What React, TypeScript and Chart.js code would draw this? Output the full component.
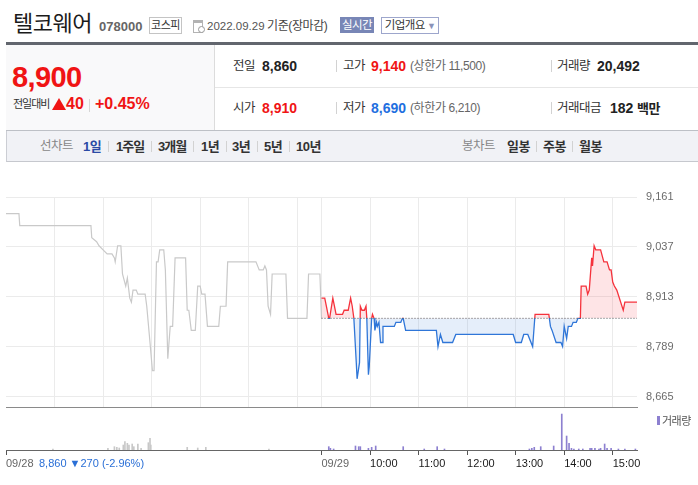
import React, { useEffect, useRef } from "react";
import { Chart, registerables } from "chart.js";
Chart.register(...registerables);

const FONT = "'Liberation Sans', 'Noto Sans CJK KR', sans-serif";

// ---- data ----
const prevClose = 8860;
const yTickValues = [8665, 8789, 8913, 9037, 9161];
const yMin = 8640;
const yMax = 9161;

const prevTimes = ["09:00","09:16","09:17","10:45","10:46","10:52","10:55","11:00","11:05","11:11","11:14","11:15","11:18","11:22","11:24","11:28","11:30","11:33","11:35","11:37","11:41","11:43","11:52","11:54","11:58","12:01","12:03","12:06","12:08","12:10","12:15","12:17","12:20","12:23","12:26","12:29","12:42","12:44","12:46","12:49","12:54","12:57","13:00","13:02","13:06","13:09","13:11","13:23","13:25","13:32","13:34","14:09","14:13","14:18","14:20","14:22","14:24","14:27","14:29","14:46","14:48","15:12","15:14","15:28","15:30"];
const prevPrices = [9120,9120,9090,9090,9060,9050,9040,9030,9020,9020,9010,9000,9040,9040,8970,8940,8960,8910,8900,8930,8930,8920,8920,8890,8800,8730,8730,9000,9000,9030,9030,8980,8760,8840,8840,9010,9010,8880,8880,8830,8830,8940,8940,8920,8920,8840,8840,8840,8890,8890,9000,9000,8980,8980,8990,8980,8890,8870,8970,8970,8860,8860,8970,8970,8860];

const todayTimes = ["09:00","09:04","09:06","09:09","09:10","09:14","09:16","09:18","09:26","09:28","09:33","09:36","09:38","09:40","09:43","09:44","09:47","09:48","09:50","09:53","09:55","09:56","09:58","09:59","10:02","10:03","10:05","10:06","10:08","10:09","10:11","10:13","10:15","10:16","10:30","10:32","10:38","10:40","10:41","10:44","11:22","11:24","11:27","11:30","11:42","11:46","12:57","13:00","13:07","13:10","13:15","13:21","13:24","13:41","13:43","13:45","13:50","13:56","13:58","14:00","14:03","14:05","14:09","14:11","14:15","14:17","14:20","14:21","14:27","14:29","14:31","14:34","14:35","14:37","14:39","14:45","14:49","14:53","14:56","14:58","15:00","15:02","15:05","15:13","15:15","15:30"];
const todayPrices = [8910,8910,8890,8860,8860,8910,8890,8870,8870,8880,8880,8910,8890,8860,8750,8710,8750,8890,8880,8880,8890,8860,8720,8740,8860,8870,8860,8830,8850,8840,8850,8800,8800,8840,8840,8850,8850,8860,8860,8830,8830,8790,8820,8800,8800,8820,8820,8800,8800,8820,8820,8790,8870,8870,8840,8830,8800,8800,8790,8840,8810,8840,8840,8850,8850,8860,8860,8940,8940,8920,8930,9010,8990,9040,9030,9030,9000,9000,8980,8980,8950,8940,8930,8880,8900,8900];

const prevVolTimes = ["09:58","11:06","11:14","11:17","11:20","11:25","11:27","11:30","11:32","11:36","11:38","11:43","11:47","11:56","11:58","11:59","12:44","12:57","13:07","14:25"];
const prevVolumes = [75,125,250,200,150,375,625,500,375,450,250,450,125,550,875,375,200,150,200,75];

const todayVolTimes = ["09:09","09:11","09:15","09:42","09:46","09:48","09:58","10:02","10:07","10:41","11:07","11:23","11:32","13:17","13:20","13:23","13:31","13:47","13:57","14:03","14:06","14:09","14:12","14:18","14:23","14:32","14:34","14:38","14:43","14:45","14:50","14:53","14:58","15:07","15:15","15:28"];
const todayVolumes = [250,125,75,300,250,250,125,200,300,250,75,250,75,75,125,200,250,300,2700,1050,500,125,75,75,75,125,125,125,75,125,450,125,125,75,75,75];
const volMax = 3230;

const prevGridTimes = ["10:00","11:00","12:00","13:00","14:00","15:00"];
const todayHourLabels = ["10:00","11:00","12:00","13:00","14:00","15:00"];
const prevDateLabel = "09/28";
const todayDateLabel = "09/29";
const prevDayNote = "8,860 ▼270 (-2.96%)";

const DAY = 390;
const toMin = (t: string) => {
  const [h, m] = t.split(":").map(Number);
  return (h - 9) * 60 + m;
};

const RED = "#f5323c";
const BLUE = "#2f76d8";

type TP = { x: number; y: number; size: number; color?: string; bold?: boolean; ls?: number; children: any };
const T = ({ x, y, size, color = "#333", bold = false, ls = 0, children }: TP) => {
  const lh = Math.round(size + 6);
  return (
    <div style={{ position: "absolute", left: x, top: y - lh / 2, lineHeight: lh + "px", fontSize: size, color, fontWeight: bold ? 700 : 400, letterSpacing: ls, whiteSpace: "nowrap", fontFamily: FONT }}>
      {children}
    </div>
  );
};
const VSep = ({ x, y, h = 12, color = "#d2d2d2" }: { x: number; y: number; h?: number; color?: string }) => (
  <div style={{ position: "absolute", left: x, top: y - h / 2, width: 1, height: h, background: color }} />
);

export default function App() {
  const priceRef = useRef<HTMLCanvasElement>(null);
  const volRef = useRef<HTMLCanvasElement>(null);

  useEffect(() => {
    const prevLine = prevTimes.map((t, i) => ({ x: toMin(t), y: prevPrices[i] }));
    const todayLine = todayTimes.map((t, i) => ({ x: DAY + toMin(t), y: todayPrices[i] }));
    const base = [{ x: DAY, y: prevClose }, { x: 2 * DAY, y: prevClose }];
    const gridMins = [...prevGridTimes.map(toMin), DAY, ...todayHourLabels.map((t) => DAY + toMin(t))];
    const axisTicks = [0, DAY, ...todayHourLabels.map((t) => DAY + toMin(t))];
    const axisLabel = (v: number) => {
      if (v === 0) return prevDateLabel;
      if (v === DAY) return todayDateLabel;
      const i = todayHourLabels.findIndex((t) => DAY + toMin(t) === v);
      return i >= 0 ? todayHourLabels[i] : "";
    };

    const priceChart = new Chart(priceRef.current!, {
      type: "line",
      data: {
        datasets: [
          { data: base, borderColor: "#555", borderWidth: 1, borderDash: [1, 2], pointRadius: 0, fill: false },
          {
            data: todayLine,
            borderWidth: 1.3,
            pointRadius: 0,
            tension: 0,
            borderColor: (ctx: any) => {
              const chart = ctx.chart;
              const ca = chart.chartArea;
              if (!ca) return RED;
              const yb = chart.scales.y.getPixelForValue(prevClose);
              const g = chart.ctx.createLinearGradient(0, ca.top, 0, ca.bottom);
              const f = Math.min(1, Math.max(0, (yb - ca.top) / (ca.bottom - ca.top)));
              g.addColorStop(0, RED);
              g.addColorStop(f, RED);
              g.addColorStop(f, BLUE);
              g.addColorStop(1, BLUE);
              return g;
            },
            fill: { target: { value: prevClose }, above: "rgba(250,90,100,0.16)", below: "rgba(80,140,220,0.15)" },
          } as any,
          { data: prevLine, borderColor: "#c9c9c9", borderWidth: 1.2, pointRadius: 0, tension: 0, fill: false },
        ],
      },
      options: {
        responsive: false,
        animation: false,
        events: [],
        layout: { padding: { left: 6, top: 10, right: 0, bottom: 2 } },
        plugins: { legend: { display: false }, tooltip: { enabled: false } },
        scales: {
          x: {
            type: "linear",
            min: 0,
            max: 2 * DAY,
            afterBuildTicks: (s: any) => { s.ticks = gridMins.map((v) => ({ value: v })); },
            afterFit: (s: any) => { s.height = 0; s.paddingLeft = 0; s.paddingRight = 0; s.paddingTop = 0; s.paddingBottom = 0; },
            ticks: { display: false },
            grid: { color: "#ebebeb", drawTicks: false },
            border: { display: true, color: "#8a8a8a" },
          },
          y: {
            position: "right",
            min: yMin,
            max: yMax,
            afterBuildTicks: (s: any) => { s.ticks = yTickValues.map((v) => ({ value: v })); },
            afterFit: (s: any) => { s.width = 61; s.paddingTop = 0; s.paddingBottom = 0; s.paddingLeft = 0; s.paddingRight = 0; },
            ticks: { color: "#6b6b6b", padding: 9, font: { family: FONT, size: 11 }, callback: (v: any) => Number(v).toLocaleString("en-US") },
            grid: { color: "#ebebeb", drawTicks: false },
            border: { display: false },
          },
        },
      } as any,
    });

    const volChart = new Chart(volRef.current!, {
      type: "bar",
      data: {
        datasets: [
          { data: todayVolTimes.map((t, i) => ({ x: DAY + toMin(t), y: todayVolumes[i] })), backgroundColor: "#8d80d0", barThickness: 1, grouped: false } as any,
          { data: prevVolTimes.map((t, i) => ({ x: toMin(t), y: prevVolumes[i] })), backgroundColor: "#c8c8c8", barThickness: 1, grouped: false } as any,
        ],
      },
      options: {
        responsive: false,
        animation: false,
        events: [],
        layout: { padding: { left: 6, top: 0, right: 0, bottom: 0 } },
        plugins: { legend: { display: false }, tooltip: { enabled: false } },
        scales: {
          x: {
            type: "linear",
            min: 0,
            max: 2 * DAY,
            offset: false,
            afterBuildTicks: (s: any) => { s.ticks = axisTicks.map((v) => ({ value: v })); },
            afterFit: (s: any) => { s.height = 35; s.paddingLeft = 0; s.paddingRight = 0; },
            ticks: {
              autoSkip: false,
              maxRotation: 0,
              align: "start",
              padding: 2,
              font: { family: FONT, size: 11 },
              color: (c: any) => (c.tick && c.tick.value <= DAY ? "#666" : "#1a1a1a"),
              callback: (v: any) => axisLabel(Number(v)),
            },
            grid: { drawOnChartArea: false, drawTicks: true, tickLength: 5, color: "#555", offset: false },
            border: { display: true, color: "#666" },
          },
          y: {
            position: "right",
            min: 0,
            max: volMax,
            afterFit: (s: any) => { s.width = 61; s.paddingTop = 0; s.paddingBottom = 0; },
            ticks: { display: false },
            grid: { display: false },
            border: { display: false },
          },
        },
      } as any,
    });

    return () => {
      priceChart.destroy();
      volChart.destroy();
    };
  }, []);

  const row1 = 66;
  const row2 = 108;
  const tabY = 146;

  return (
    <div style={{ position: "absolute", left: 0, top: 0, width: 698, height: 485, overflow: "hidden", background: "#fff", fontFamily: FONT }}>
      {/* title row */}
      <T x={13} y={24} size={22} color="#1b1b1b" ls={-0.5}>텔코웨어</T>
      <T x={99} y={26} size={13} color="#666" bold>078000</T>
      <div style={{ position: "absolute", left: 149, top: 17, width: 31, height: 15, border: "1px solid #c4c4c4", fontSize: 11, lineHeight: "15px", textAlign: "center", color: "#333", letterSpacing: -0.5 }}>코스피</div>
      <div style={{ position: "absolute", left: 193, top: 20, width: 8, height: 9, border: "1px solid #b3b3b3", borderTop: "3px solid #b3b3b3" }} />
      <div style={{ position: "absolute", left: 198, top: 26, width: 5, height: 5, borderRadius: 4, border: "1px solid #999", background: "#fff" }} />
      <T x={207} y={26} size={11.5} color="#555">2022.09.29</T>
      <T x={267} y={26} size={12} color="#444" ls={-0.4}>기준(장마감)</T>
      <div style={{ position: "absolute", left: 340, top: 17, width: 34, height: 16, background: "#7886b6", color: "#fff", fontSize: 11.5, lineHeight: "16px", textAlign: "center", letterSpacing: -0.5 }}>실시간</div>
      <div style={{ position: "absolute", left: 381, top: 17, width: 56, height: 15, border: "1px solid #9da6cc", color: "#333", fontSize: 11.5, lineHeight: "15px", textAlign: "center", letterSpacing: -0.5 }}>
        기업개요<span style={{ color: "#8a93b8", fontSize: 9, marginLeft: 2 }}>▼</span>
      </div>

      {/* dark bar */}
      <div style={{ position: "absolute", left: 6, top: 42, width: 692, height: 3, background: "#62666e" }} />

      {/* info area */}
      <div style={{ position: "absolute", left: 6, top: 45, width: 208, height: 85, background: "#f9f9fa", borderRight: "1px solid #dcdcdc" }} />
      <div style={{ position: "absolute", left: 215, top: 87, width: 483, height: 1, background: "#e6e6e6" }} />
      <div style={{ position: "absolute", left: 6, top: 130, width: 692, height: 1, background: "#bdc0c6" }} />

      <T x={12} y={77} size={29} color="#f01414" bold ls={-0.6}>8,900</T>
      <T x={13} y={104} size={11} color="#333" ls={-1}>전일대비</T>
      <div style={{ position: "absolute", left: 52, top: 98, width: 0, height: 0, borderLeft: "7px solid transparent", borderRight: "7px solid transparent", borderBottom: "12px solid #f01414" }} />
      <T x={66} y={104} size={16} color="#f01414" bold>40</T>
      <VSep x={89} y={105} h={13} color="#d6d6d6" />
      <T x={95} y={104} size={16} color="#f01414" bold>+0.45%</T>

      <T x={233} y={row1} size={12.5} color="#333" ls={-0.5}>전일</T>
      <T x={262} y={row1} size={14} color="#222" bold>8,860</T>
      <VSep x={336} y={row1} />
      <T x={343} y={row1} size={12.5} color="#333" ls={-0.5}>고가</T>
      <T x={371} y={row1} size={14} color="#f01414" bold>9,140</T>
      <T x={410} y={row1} size={12} color="#666" ls={-0.4}>(상한가 11,500)</T>
      <VSep x={551} y={row1} />
      <T x={557} y={row1} size={12.5} color="#333" ls={-0.5}>거래량</T>
      <T x={597} y={row1} size={14} color="#222" bold>20,492</T>

      <T x={233} y={row2} size={12.5} color="#333" ls={-0.5}>시가</T>
      <T x={262} y={row2} size={14} color="#f01414" bold>8,910</T>
      <VSep x={336} y={row2} />
      <T x={343} y={row2} size={12.5} color="#333" ls={-0.5}>저가</T>
      <T x={371} y={row2} size={14} color="#1f6fe0" bold>8,690</T>
      <T x={410} y={row2} size={12} color="#666" ls={-0.4}>(하한가 6,210)</T>
      <VSep x={551} y={row2} />
      <T x={557} y={row2} size={12.5} color="#333" ls={-0.5}>거래대금</T>
      <T x={610} y={row2} size={14} color="#222" bold>182</T>
      <T x={637} y={row2} size={13} color="#222" bold ls={-0.5}>백만</T>

      {/* tab bar */}
      <div style={{ position: "absolute", left: 6, top: 131, width: 691, height: 30, background: "#f1f2f6", borderLeft: "1px solid #ccced4", borderBottom: "1px solid #c6c8ce" }} />
      <T x={40} y={tabY} size={12.5} color="#888" ls={-0.5}>선차트</T>
      <T x={83} y={tabY} size={13} color="#2b4aa5" bold ls={-0.5}>1일</T>
      <VSep x={108} y={tabY} h={11} />
      <T x={116} y={tabY} size={13} color="#333" bold ls={-1}>1주일</T>
      <VSep x={151} y={tabY} h={11} />
      <T x={158} y={tabY} size={13} color="#333" bold ls={-1}>3개월</T>
      <VSep x={193} y={tabY} h={11} />
      <T x={201} y={tabY} size={13} color="#333" bold ls={-0.5}>1년</T>
      <VSep x={226} y={tabY} h={11} />
      <T x={232} y={tabY} size={13} color="#333" bold ls={-0.5}>3년</T>
      <VSep x={257} y={tabY} h={11} />
      <T x={264} y={tabY} size={13} color="#333" bold ls={-0.5}>5년</T>
      <VSep x={289} y={tabY} h={11} />
      <T x={296} y={tabY} size={13} color="#333" bold ls={-0.5}>10년</T>

      <T x={462} y={tabY} size={12.5} color="#888" ls={-0.5}>봉차트</T>
      <T x={507} y={tabY} size={13} color="#333" bold ls={-0.5}>일봉</T>
      <VSep x={536} y={tabY} h={11} />
      <T x={543} y={tabY} size={13} color="#333" bold ls={-0.5}>주봉</T>
      <VSep x={572} y={tabY} h={11} />
      <T x={579} y={tabY} size={13} color="#333" bold ls={-0.5}>월봉</T>

      {/* charts */}
      <canvas ref={volRef} width={698} height={78} style={{ position: "absolute", left: 0, top: 407, width: 698, height: 78 }} />
      <canvas ref={priceRef} width={698} height={222} style={{ position: "absolute", left: 0, top: 187, width: 698, height: 222 }} />

      {/* volume legend */}
      <div style={{ position: "absolute", left: 657, top: 416, width: 3, height: 9, background: "#8d80d0" }} />
      <T x={662} y={421} size={11} color="#555" ls={-0.5}>거래량</T>

      {/* previous day note next to the first axis label */}
      <T x={39} y={463} size={11} color="#2a6fd6">{prevDayNote}</T>
    </div>
  );
}
